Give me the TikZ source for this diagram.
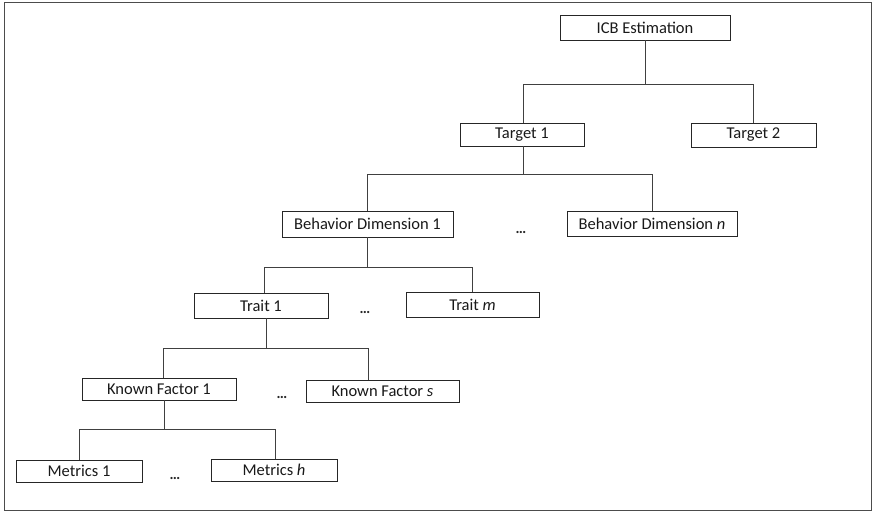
\documentclass[tikz,border=0pt]{standalone}
\usepackage{fontspec}
\setmainfont{Carlito}
\begin{document}
\begin{tikzpicture}[x=1pt,y=-1pt,
  box/.style={draw=black!85,line width=0.9pt,rectangle,inner sep=0pt,font=\fontsize{16.5}{19}\selectfont,text=black!90},
  conn/.style={draw=black!75,line width=0.9pt},
  dots/.style={font=\fontsize{15}{18}\selectfont\bfseries,text=black!85,inner sep=0pt}]
\useasboundingbox (0,0) rectangle (876,512);
\draw[black!70,line width=1pt] (4,2.5) rectangle (871,510);
% nodes
\node[box,minimum width=170pt,minimum height=25pt] (icb) at (645,27.5) {ICB Estimation};
\node[box,minimum width=124pt,minimum height=23pt] (t1) at (522,134.5) {Target 1};
\node[box,minimum width=125pt,minimum height=24pt] (t2) at (753.5,135) {Target 2};
\node[box,minimum width=171pt,minimum height=26pt] (bd1) at (367.5,224) {Behavior Dimension 1};
\node[box,minimum width=170pt,minimum height=25pt] (bdn) at (652,223.5) {Behavior Dimension \textit{n}};
\node[box,minimum width=134pt,minimum height=25pt] (tr1) at (261,305.5) {Trait 1};
\node[box,minimum width=133pt,minimum height=25pt] (trm) at (472.5,304.5) {Trait \textit{m}};
\node[box,minimum width=154pt,minimum height=22pt] (kf1) at (159,389) {Known Factor 1};
\node[box,minimum width=153pt,minimum height=22pt] (kfs) at (382.5,391) {Known Factor \textit{s}};
\node[box,minimum width=126pt,minimum height=22pt] (m1) at (79,471) {Metrics 1};
\node[box,minimum width=126pt,minimum height=22pt] (mh) at (274,470) {Metrics \textit{h}};
% dots
\node[dots] (d1) at (521,232) {…};
\node[dots] (d2) at (365,312) {…};
\node[dots] (d3) at (282,397) {…};
\node[dots] (d4) at (175,478) {…};
% bus levels
\coordinate (y1) at (0,84);
\coordinate (y2) at (0,174.5);
\coordinate (y3) at (0,267.5);
\coordinate (y4) at (0,348);
\coordinate (y5) at (0,429);
% connectors
\draw[conn] (icb.south) -- (icb.south |- y1);
\draw[conn] ([xshift=1pt]t1.north) |- (t2.north |- y1) -- (t2.north);
\draw[conn] ([xshift=1pt]t1.south) -- ([xshift=1pt]t1.south |- y2);
\draw[conn] (bd1.north) |- (bdn.north |- y2) -- (bdn.north);
\draw[conn] (bd1.south) -- (bd1.south |- y3);
\draw[conn] ([xshift=3pt]tr1.north) |- ([xshift=-0.5pt]trm.north |- y3) -- ([xshift=-0.5pt]trm.north);
\draw[conn] ([xshift=5pt]tr1.south) -- ([xshift=5pt]tr1.south |- y4);
\draw[conn] ([xshift=4pt]kf1.north) |- ([xshift=-14.5pt]kfs.north |- y4) -- ([xshift=-14.5pt]kfs.north);
\draw[conn] ([xshift=5pt]kf1.south) -- ([xshift=5pt]kf1.south |- y5);
\draw[conn] (m1.north) |- ([xshift=1pt]mh.north |- y5) -- ([xshift=1pt]mh.north);
\end{tikzpicture}
\end{document}
